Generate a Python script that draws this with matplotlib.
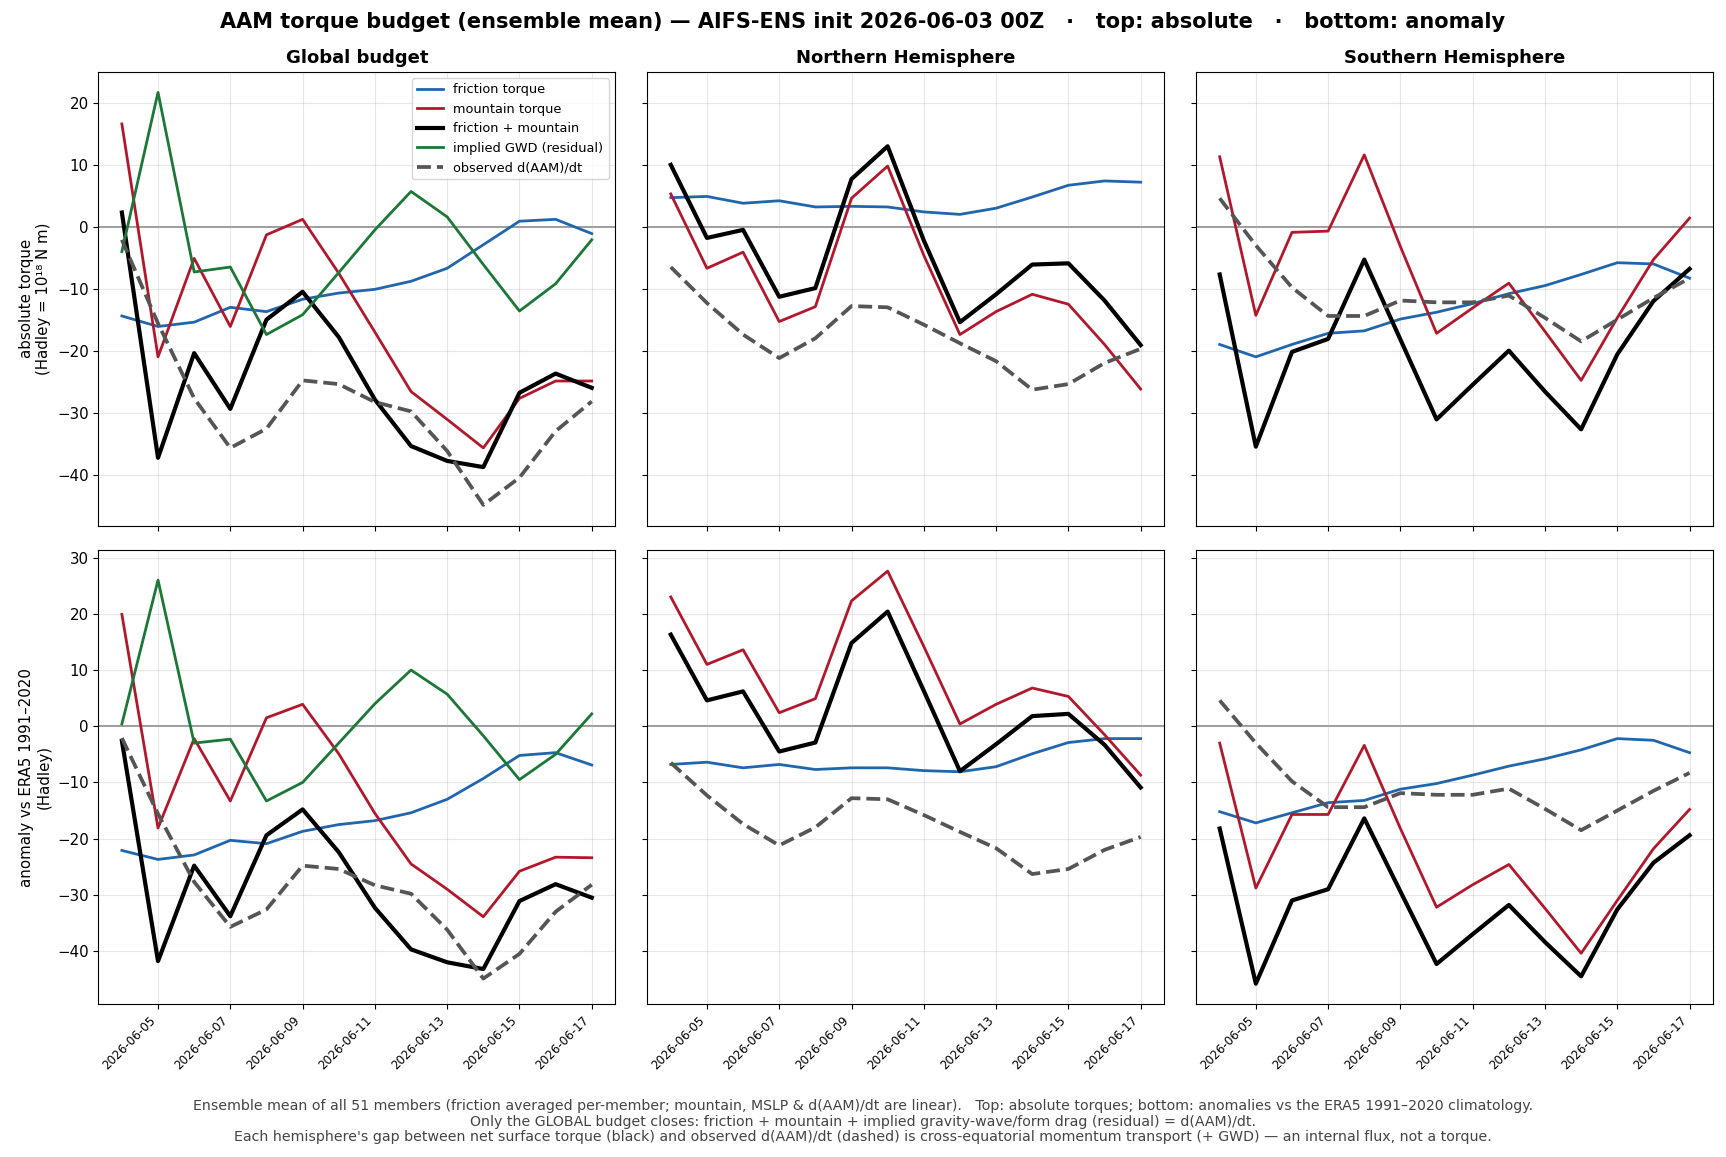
import numpy as np
import matplotlib
matplotlib.use("Agg")
import matplotlib.pyplot as plt
import matplotlib.dates as mdates

dates = np.arange(np.datetime64("2026-06-04"), np.datetime64("2026-06-18"), np.timedelta64(1, "D"))

# ---- top row: absolute torques (Hadley) ----
glob_fric = [-14.4, -16.1, -15.4, -13.0, -13.7, -11.7, -10.7, -10.1, -8.8, -6.7, -2.9, 0.9, 1.2, -1.1]
glob_mtn = [16.6, -21.0, -5.1, -16.1, -1.3, 1.2, -7.5, -17.0, -26.6, -31.1, -35.7, -27.7, -24.9, -24.9]
glob_net = [2.3, -37.3, -20.4, -29.4, -15.0, -10.5, -17.8, -27.9, -35.4, -37.8, -38.8, -26.8, -23.7, -26.0]
glob_gwd = [-4.0, 21.7, -7.3, -6.5, -17.4, -14.2, -7.4, -0.5, 5.7, 1.6, -6.1, -13.6, -9.2, -2.1]
glob_obs = [-2.1, -15.6, -27.7, -35.7, -32.6, -24.8, -25.4, -28.3, -29.8, -36.2, -44.9, -40.5, -33.0, -28.2]

nh_fric = [4.7, 4.9, 3.8, 4.2, 3.2, 3.3, 3.2, 2.4, 2.0, 3.0, 4.8, 6.7, 7.4, 7.2]
nh_mtn = [5.3, -6.7, -4.1, -15.3, -12.9, 4.6, 9.8, -4.6, -17.4, -13.7, -10.9, -12.5, -19.0, -26.2]
nh_net = [10.0, -1.8, -0.5, -11.3, -9.9, 7.7, 13.0, -2.2, -15.4, -10.9, -6.1, -5.9, -11.9, -19.1]
nh_obs = [-6.5, -12.3, -17.4, -21.2, -18.0, -12.8, -13.0, -15.8, -18.8, -21.7, -26.3, -25.4, -22.0, -19.7]

sh_fric = [-19.0, -21.0, -19.0, -17.2, -16.8, -14.9, -13.8, -12.4, -10.8, -9.5, -7.7, -5.8, -6.0, -8.3]
sh_mtn = [11.3, -14.3, -0.9, -0.7, 11.6, -3.2, -17.2, -13.1, -9.1, -16.9, -24.8, -14.7, -5.3, 1.4]
sh_net = [-7.7, -35.5, -20.2, -18.1, -5.3, -18.2, -31.1, -25.5, -20.0, -26.6, -32.7, -20.6, -12.0, -6.8]
sh_obs = [4.6, -3.0, -9.8, -14.4, -14.4, -11.9, -12.2, -12.2, -11.1, -14.7, -18.5, -15.0, -11.5, -8.3]

# ---- bottom row: anomalies vs ERA5 1991-2020 (Hadley) ----
glob_fric_a = [-22.1, -23.7, -22.9, -20.3, -20.9, -18.7, -17.5, -16.8, -15.4, -13.0, -9.3, -5.2, -4.7, -6.9]
glob_mtn_a = [19.9, -18.1, -2.2, -13.3, 1.5, 3.9, -4.9, -15.5, -24.5, -29.0, -33.9, -25.8, -23.3, -23.4]
glob_net_a = [-2.6, -41.8, -24.8, -33.8, -19.4, -14.8, -22.4, -32.3, -39.7, -42.0, -43.2, -31.1, -28.1, -30.5]
glob_gwd_a = [0.4, 26.0, -3.0, -2.3, -13.3, -10.0, -3.0, 4.0, 10.0, 5.7, -1.7, -9.5, -5.0, 2.2]

nh_fric_a = [-6.8, -6.4, -7.4, -6.8, -7.7, -7.4, -7.4, -7.9, -8.1, -7.2, -4.9, -2.9, -2.2, -2.2]
nh_mtn_a = [23.0, 11.0, 13.6, 2.4, 4.9, 22.3, 27.6, 14.2, 0.4, 3.9, 6.8, 5.3, -1.5, -8.7]
nh_net_a = [16.3, 4.6, 6.2, -4.5, -2.9, 14.8, 20.4, 6.3, -8.0, -3.2, 1.8, 2.2, -3.3, -10.9]

sh_fric_a = [-15.2, -17.2, -15.4, -13.6, -13.2, -11.2, -10.2, -8.7, -7.1, -5.8, -4.2, -2.2, -2.5, -4.7]
sh_mtn_a = [-3.0, -28.8, -15.7, -15.7, -3.4, -18.2, -32.2, -28.2, -24.6, -32.4, -40.4, -31.0, -21.8, -14.8]
sh_net_a = [-18.2, -45.8, -31.0, -29.0, -16.4, -29.4, -42.3, -37.0, -31.8, -38.4, -44.5, -32.6, -24.3, -19.4]

col_titles = ["Global budget", "Northern Hemisphere", "Southern Hemisphere"]

C_FRIC = "#2166ac"
C_MTN = "#b2182b"
C_GWD = "#1b7837"
C_OBS = "#555555"

panels = [
    [(glob_fric, glob_mtn, glob_net, glob_gwd, glob_obs),
     (nh_fric, nh_mtn, nh_net, None, nh_obs),
     (sh_fric, sh_mtn, sh_net, None, sh_obs)],
    [(glob_fric_a, glob_mtn_a, glob_net_a, glob_gwd_a, glob_obs),
     (nh_fric_a, nh_mtn_a, nh_net_a, None, nh_obs),
     (sh_fric_a, sh_mtn_a, sh_net_a, None, sh_obs)],
]

fig, axes = plt.subplots(2, 3, figsize=(17.26, 11.57), dpi=100, sharex=True, sharey="row")
fig.subplots_adjust(left=0.057, right=0.9925, top=0.938, bottom=0.132, wspace=0.062, hspace=0.055)

for r in range(2):
    for c in range(3):
        ax = axes[r, c]
        fric, mtn, net, gwd, obs = panels[r][c]
        ax.axhline(0, color="grey", lw=1.1, zorder=1)
        ax.plot(dates, fric, color=C_FRIC, lw=2.0, label="friction torque")
        ax.plot(dates, mtn, color=C_MTN, lw=2.0, label="mountain torque")
        ax.plot(dates, net, color="black", lw=3.0, label="friction + mountain")
        if gwd is not None:
            ax.plot(dates, gwd, color=C_GWD, lw=2.0, label="implied GWD (residual)")
        ax.plot(dates, obs, color=C_OBS, lw=2.7, ls="--", label="observed d(AAM)/dt")
        ax.grid(True, alpha=0.3)
        ax.tick_params(axis="y", labelsize=10.8)
        if r == 0:
            ax.set_title(col_titles[c], fontsize=13, fontweight="bold")

axes[0, 0].legend(loc="upper right", fontsize=9.3)
axes[0, 0].set_ylabel("absolute torque\n(Hadley = 10¹⁸ N m)", fontsize=10.8)
axes[1, 0].set_ylabel("anomaly vs ERA5 1991–2020\n(Hadley)", fontsize=10.8)

for ax in axes[1]:
    ax.set_xticks(dates[1::2])
    ax.xaxis.set_major_formatter(mdates.DateFormatter("%Y-%m-%d"))
    for lab in ax.get_xticklabels():
        lab.set_rotation(45)
        lab.set_ha("right")
        lab.set_fontsize(8.6)

fig.suptitle("AAM torque budget (ensemble mean) — AIFS-ENS init 2026-06-03 00Z   ·   top: absolute   ·   bottom: anomaly",
             fontsize=15, fontweight="bold", y=0.99)

footer = ("Ensemble mean of all 51 members (friction averaged per-member; mountain, MSLP & d(AAM)/dt are linear).   "
          "Top: absolute torques; bottom: anomalies vs the ERA5 1991–2020 climatology.\n"
          "Only the GLOBAL budget closes: friction + mountain + implied gravity-wave/form drag (residual) = d(AAM)/dt.\n"
          "Each hemisphere's gap between net surface torque (black) and observed d(AAM)/dt (dashed) is "
          "cross-equatorial momentum transport (+ GWD) — an internal flux, not a torque.")
fig.text(0.5, 0.011, footer, ha="center", va="bottom", fontsize=10.2, color="#444444", linespacing=1.15)

fig.savefig("out.png", dpi=100)
